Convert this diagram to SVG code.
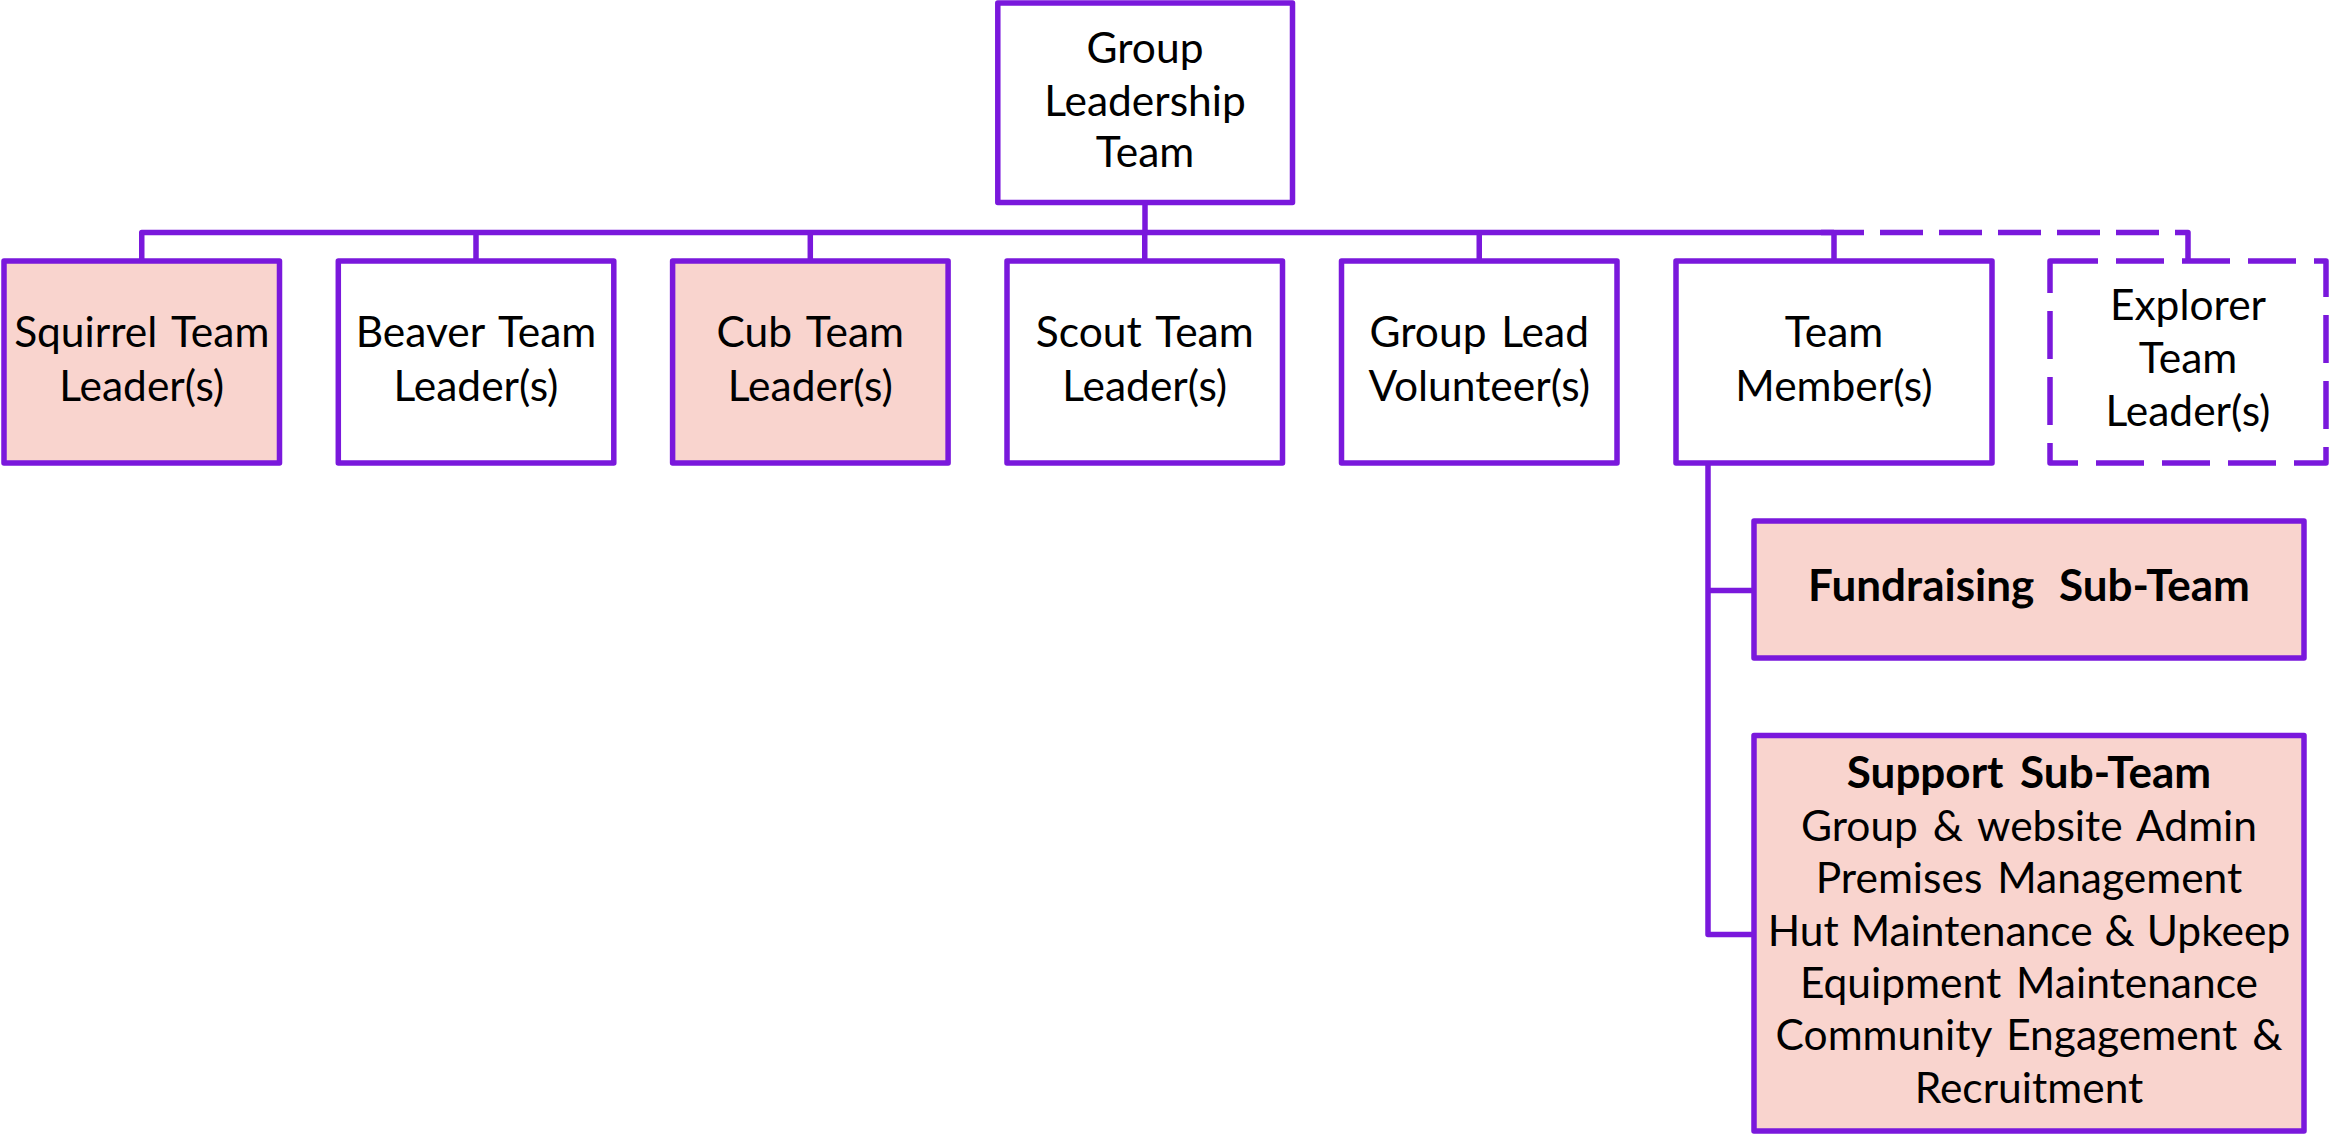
<svg xmlns="http://www.w3.org/2000/svg" width="2331" height="1134" viewBox="0 0 2331 1134">
  <style>
    .box { stroke: #7A18DC; stroke-width: 5.5; stroke-linejoin: round; fill: #FFFFFF; }
    .pink { fill: #F9D4CE; }
    .dash { stroke-dasharray: 48 18; }
    .conn { stroke: #7A18DC; stroke-width: 5.5; fill: none; stroke-linejoin: round; }
    .cdash { stroke-dasharray: 43 16; }
    text { font-family: Lato, "Liberation Sans", sans-serif; font-size: 42.5px; fill: #000000; text-anchor: middle; word-spacing: 4px; }
    .b { font-weight: bold; font-size: 44px; word-spacing: 14px; }
  </style>
  <g id="connectors">
    <path class="conn" d="M1145,202.5 V232.5"/>
    <path class="conn" d="M141.75,261 V232.5 H1834"/>
    <path class="conn" d="M476,232.5 V261 M810.3,232.5 V261 M1144.75,232.5 V261 M1479.25,232.5 V261 M1834,232.5 V261"/>
    <path class="conn cdash" d="M1821,232.5 H2188 V261"/>
    <path class="conn" d="M1708,463 V934.5 H1754 M1708,590.5 H1754"/>
  </g>
  <g id="group-leadership-team">
    <rect class="box" x="997.8" y="3" width="294.7" height="199.5"/>
    <text x="1145" y="63">Group</text>
    <text x="1145" y="116">Leadership</text>
    <text x="1145" y="167">Team</text>
  </g>
  <g id="squirrel">
    <rect class="box pink" x="4" y="261" width="275.5" height="202"/>
    <text x="141.75" y="347">Squirrel Team</text>
    <text x="141.75" y="401">Leader(s)</text>
  </g>
  <g id="beaver">
    <rect class="box" x="338.3" y="261" width="275.5" height="202"/>
    <text x="476" y="347">Beaver Team</text>
    <text x="476" y="401">Leader(s)</text>
  </g>
  <g id="cub">
    <rect class="box pink" x="672.6" y="261" width="275.5" height="202"/>
    <text x="810.3" y="347">Cub Team</text>
    <text x="810.3" y="401">Leader(s)</text>
  </g>
  <g id="scout">
    <rect class="box" x="1007" y="261" width="275.5" height="202"/>
    <text x="1144.75" y="347">Scout Team</text>
    <text x="1144.75" y="401">Leader(s)</text>
  </g>
  <g id="group-lead">
    <rect class="box" x="1341.5" y="261" width="275.5" height="202"/>
    <text x="1479.25" y="347">Group Lead</text>
    <text x="1479.25" y="401">Volunteer(s)</text>
  </g>
  <g id="team-member">
    <rect class="box" x="1676" y="261" width="316" height="202"/>
    <text x="1834" y="347">Team</text>
    <text x="1834" y="401">Member(s)</text>
  </g>
  <g id="explorer">
    <rect class="box dash" x="2050" y="261" width="276" height="202"/>
    <text x="2188" y="320">Explorer</text>
    <text x="2188" y="373">Team</text>
    <text x="2188" y="426">Leader(s)</text>
  </g>
  <g id="fundraising">
    <rect class="box pink" x="1754" y="521" width="550" height="137"/>
    <text class="b" x="2029" y="601">Fundraising Sub-Team</text>
  </g>
  <g id="support">
    <rect class="box pink" x="1754" y="735.5" width="550" height="395.5"/>
    <text class="b" x="2029" y="788" style="word-spacing:6px">Support Sub-Team</text>
    <text x="2029" y="841">Group &amp; website Admin</text>
    <text x="2029" y="893">Premises Management</text>
    <text x="2029" y="946" style="word-spacing:1px">Hut Maintenance &amp; Upkeep</text>
    <text x="2029" y="998">Equipment Maintenance</text>
    <text x="2029" y="1050">Community Engagement &amp;</text>
    <text x="2029" y="1103">Recruitment</text>
  </g>
</svg>
